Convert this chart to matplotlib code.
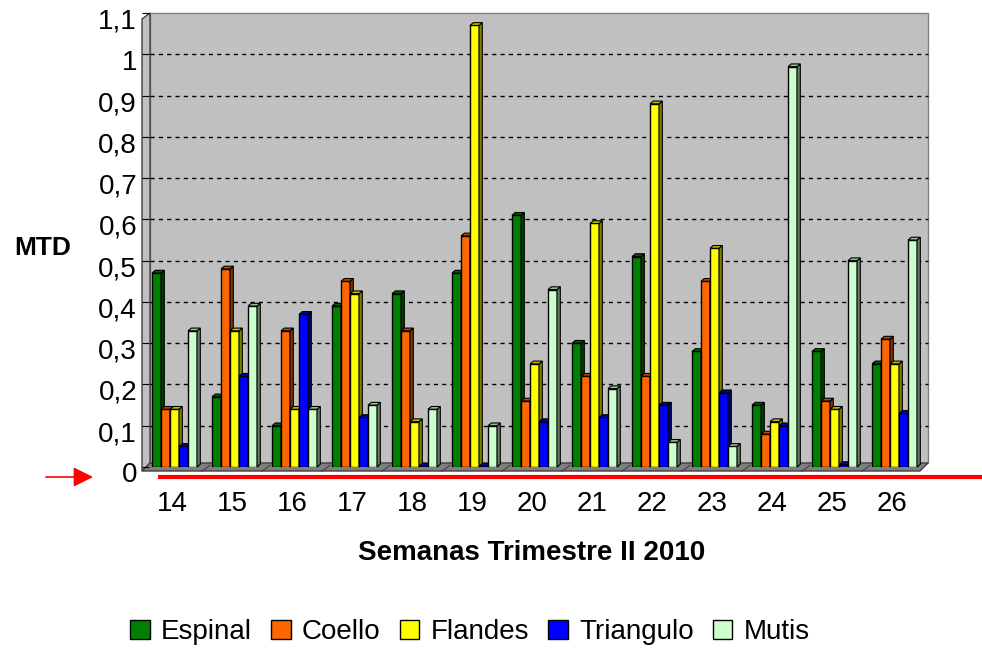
import matplotlib
matplotlib.use("Agg")
import matplotlib.pyplot as plt
import matplotlib.transforms as mtransforms
from matplotlib.patches import Polygon, Patch, FancyArrowPatch
from matplotlib.lines import Line2D

plt.rcParams['font.family'] = ['Liberation Sans', 'DejaVu Sans']

# data
weeks = [14, 15, 16, 17, 18, 19, 20, 21, 22, 23, 24, 25, 26]
espinal = [0.47, 0.17, 0.10, 0.39, 0.42, 0.47, 0.61, 0.30, 0.51, 0.28, 0.15, 0.28, 0.25]
coello = [0.14, 0.48, 0.33, 0.45, 0.33, 0.56, 0.16, 0.22, 0.22, 0.45, 0.08, 0.16, 0.31]
flandes = [0.14, 0.33, 0.14, 0.42, 0.11, 1.07, 0.25, 0.59, 0.88, 0.53, 0.11, 0.14, 0.25]
triangulo = [0.05, 0.22, 0.37, 0.12, 0.002, 0.002, 0.11, 0.12, 0.15, 0.18, 0.10, 0.006, 0.13]
mutis = [0.33, 0.39, 0.14, 0.15, 0.14, 0.10, 0.43, 0.19, 0.06, 0.05, 0.97, 0.50, 0.55]
names = ["Espinal", "Coello", "Flandes", "Triangulo", "Mutis"]
yticks = [0, 0.1, 0.2, 0.3, 0.4, 0.5, 0.6, 0.7, 0.8, 0.9, 1.0, 1.1]
ylabels = ["0", "0,1", "0,2", "0,3", "0,4", "0,5", "0,6", "0,7", "0,8", "0,9", "1", "1,1"]

series = [espinal, coello, flandes, triangulo, mutis]
colors = ["#008000", "#FF6600", "#FFFF00", "#0000FF", "#CCFFCC"]
tops = ["#006000", "#C04D00", "#C0C000", "#0000C0", "#99BF99"]
sides = ["#003F00", "#803300", "#808000", "#000080", "#668066"]

W, H = 982, 648
fig = plt.figure(figsize=(W / 100, H / 100), dpi=100)


def px(x, y):
    return (x / W, 1 - y / H)


ax = fig.add_axes([142 / W, 1 - 467 / H, 780 / W, 454 / H])
ax.patch.set_visible(False)
ax.set_xlim(13.5, 26.5)
ax.set_ylim(0, 1.1)
for s in ax.spines.values():
    s.set_visible(False)

# walls and floor (pseudo 3D box)
back = Polygon([px(150, 13), px(928, 13), px(928, 463), px(150, 463)], closed=True,
               facecolor="#C0C0C0", edgecolor="#808080", lw=1, transform=fig.transFigure, zorder=-2)
left = Polygon([px(142, 19), px(150, 13), px(150, 463), px(142, 471)], closed=True,
               facecolor="#C0C0C0", edgecolor="#404040", lw=1, transform=fig.transFigure, zorder=-2)
floor = Polygon([px(142, 471), px(920, 471), px(928, 463), px(150, 463)], closed=True,
                facecolor="#808080", edgecolor="#404040", lw=1, transform=fig.transFigure, zorder=-2)
for p in (back, left, floor):
    fig.add_artist(p)

# dashed grid on back wall
for v in yticks[1:-1]:
    ax.axhline(v, xmin=8 / 780, xmax=1 + 6 / 780, color="black", lw=1,
               ls=(0, (3, 3)), zorder=1, clip_on=False)

# group separators on the floor
for k in range(len(weeks) - 1):
    xs = weeks[k] + 0.5
    ax.plot([xs, xs + 0.13], [-0.01, 0.004], color="#404040", lw=0.8, clip_on=False, zorder=1)

# bars with side and top faces
w = 0.15
dx, dy = 0.055, 0.0066
for s, vals in enumerate(series):
    xl = [wk - 0.333 + s * w for wk in weeks]
    z = 3 + s
    ax.bar(xl, vals, width=w, align="edge", color=colors[s], edgecolor="black",
           linewidth=1, zorder=z)
    for x0, v in zip(xl, vals):
        side = Polygon([(x0 + w, 0), (x0 + w + dx, dy), (x0 + w + dx, v + dy), (x0 + w, v)],
                       closed=True, facecolor=sides[s], edgecolor="black", lw=0.8, zorder=z,
                       clip_on=False)
        top = Polygon([(x0, v), (x0 + dx, v + dy), (x0 + w + dx, v + dy), (x0 + w, v)],
                      closed=True, facecolor=tops[s], edgecolor="black", lw=0.8, zorder=z,
                      clip_on=False)
        ax.add_patch(side)
        ax.add_patch(top)

# y axis ticks and labels
ax.set_yticks(yticks)
ax.tick_params(axis="y", direction="in", length=5, color="black", labelleft=False)
off = mtransforms.ScaledTranslation(-0.05, -0.085, fig.dpi_scale_trans)
for v, lab in zip(yticks, ylabels):
    ax.text(0, v, lab, transform=ax.get_yaxis_transform() + off, ha="right", va="center",
            fontsize=20)

# x axis labels
ax.set_xticks(weeks)
ax.set_xticklabels([str(wk) for wk in weeks], fontsize=20)
ax.tick_params(axis="x", length=0, pad=17)

# red marker line and arrow
fig.add_artist(Line2D([160 / W, 1.0], [1 - 477 / H] * 2, color="red", lw=3,
                      transform=fig.transFigure))
fig.add_artist(FancyArrowPatch(px(46, 477), px(93, 477), transform=fig.transFigure,
                               arrowstyle="-|>", mutation_scale=30, color="red", lw=1.2,
                               shrinkA=0, shrinkB=0))

fig.text(43 / W, 1 - 248 / H, "MTD", fontsize=19, fontweight="bold", ha="center", va="center")
fig.text(532 / W, 1 - 553 / H, "Semanas Trimestre II 2010", fontsize=20, fontweight="bold",
         ha="center", va="center")

handles = [Patch(facecolor=c, edgecolor="black") for c in colors]
fig.legend(handles, names, loc="center", bbox_to_anchor=(470 / W, 1 - 632 / H), ncol=5,
           frameon=False, fontsize=20, handlelength=0.7, handleheight=0.7,
           handletextpad=0.4, columnspacing=0.7, borderaxespad=0, borderpad=0)

fig.savefig("out.png", dpi=100)
